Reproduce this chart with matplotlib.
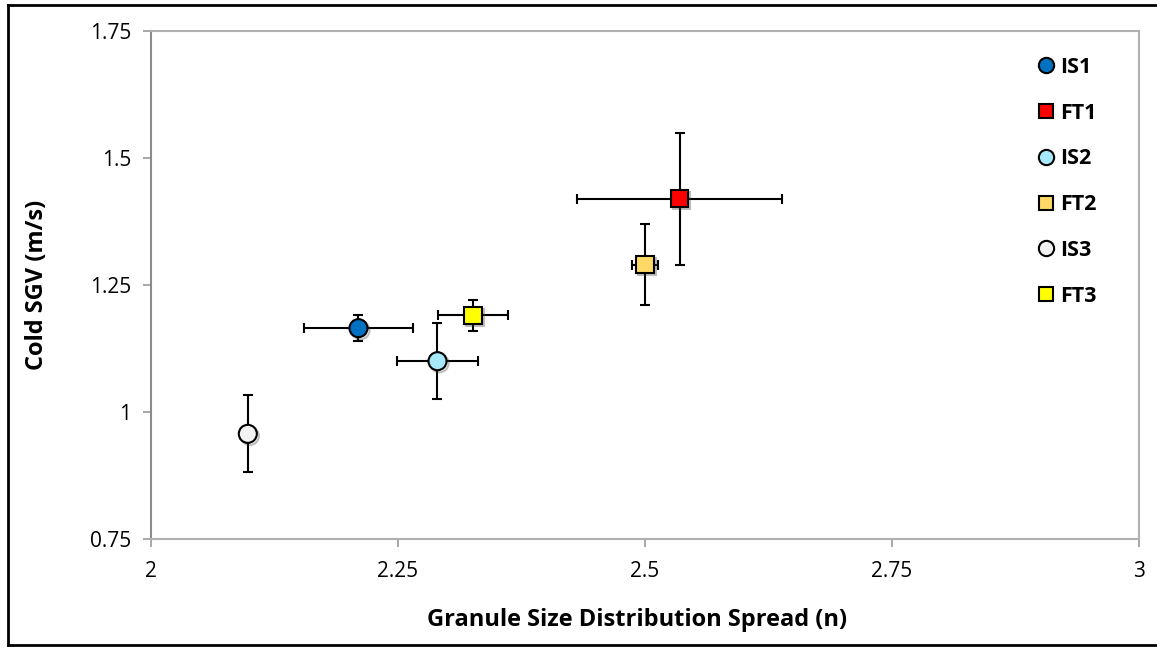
import matplotlib
matplotlib.use("Agg")
import matplotlib.pyplot as plt
from matplotlib.lines import Line2D
import matplotlib.patheffects as pe

plt.rcParams['font.family'] = ['Open Sans', 'DejaVu Sans']

labels = ["IS1", "FT1", "IS2", "FT2", "IS3", "FT3"]
x_vals = [2.21, 2.535, 2.29, 2.50, 2.098, 2.326]
y_vals = [1.165, 1.42, 1.10, 1.29, 0.957, 1.19]
x_err = [0.055, 0.104, 0.041, 0.013, 0.0, 0.035]
y_err = [0.025, 0.13, 0.075, 0.08, 0.076, 0.03]
colors = ["#0070C0", "#FF0000", "#A6E9FA", "#FFD966", "#F2F2F2", "#FFFF00"]
markers = ["o", "s", "o", "s", "o", "s"]

x_ticks = [2, 2.25, 2.5, 2.75, 3]
x_tick_labels = ["2", "2.25", "2.5", "2.75", "3"]
y_ticks = [0.75, 1, 1.25, 1.5, 1.75]
y_tick_labels = ["0.75", "1", "1.25", "1.5", "1.75"]

fig = plt.figure(figsize=(11.57, 6.48), dpi=100)
ax = fig.add_axes([0.1305, 0.1682, 0.9844 - 0.1305, 0.9522 - 0.1682])

handles = []
for lab, x, y, xe, ye, c, m in zip(labels, x_vals, y_vals, x_err, y_err, colors, markers):
    ax.errorbar(x, y, xerr=xe if xe > 0 else None, yerr=ye, fmt='none',
                ecolor='black', elinewidth=1.5, capsize=3.5, capthick=1.5, zorder=2)
    ms = 13 if m == 'o' else 12.5
    ln, = ax.plot([x], [y], marker=m, linestyle='none', markersize=ms,
                  markerfacecolor=c, markeredgecolor='black', markeredgewidth=1.5,
                  zorder=3)
    ln.set_path_effects([pe.SimpleLineShadow(offset=(1.5, -1.5), shadow_color='#444444', alpha=0.35), pe.Normal()])
    handles.append(Line2D([], [], marker=m, linestyle='none', markersize=11 if m == 'o' else 10.5,
                          markerfacecolor=c, markeredgecolor='black', markeredgewidth=1.5, label=lab))

ax.set_xlim(2, 3)
ax.set_ylim(0.75, 1.75)
ax.set_xticks(x_ticks)
ax.set_xticklabels(x_tick_labels)
ax.set_yticks(y_ticks)
ax.set_yticklabels(y_tick_labels)

for s in ['top', 'right', 'bottom']:
    ax.spines[s].set_color('#B0B0B0')
    ax.spines[s].set_linewidth(1.5)
ax.spines['left'].set_color('#8C8C8C')
ax.spines['left'].set_linewidth(1.5)
ax.tick_params(axis='both', direction='out', length=6, width=1.2, color='#999999',
               labelsize=15, labelcolor='black')
ax.tick_params(axis='x', pad=10)
ax.tick_params(axis='y', pad=8)

ax.set_xlabel("Granule Size Distribution Spread (n)", fontsize=17, fontweight='bold', labelpad=20)
ax.xaxis.set_label_coords(0.492, -0.135)
ax.set_ylabel("Cold SGV (m/s)", fontsize=17, fontweight='bold', labelpad=30)

leg = ax.legend(handles=handles, loc='upper left', bbox_to_anchor=(0.883, 0.966), frameon=False,
                fontsize=15.5, labelspacing=1.15, handletextpad=0.0, handlelength=1.3,
                borderaxespad=0)
for t in leg.get_texts():
    t.set_fontweight('bold')

# outer frame
for xs, ys in [([0.0065, 0.0065], [0.0045, 0.9925]), ([0.0065, 1.0], [0.9925, 0.9925]),
               ([0.0065, 1.0], [0.0045, 0.0045])]:
    fig.add_artist(Line2D(xs, ys, transform=fig.transFigure, color='black', linewidth=2))

fig.savefig("out.png", dpi=100)
